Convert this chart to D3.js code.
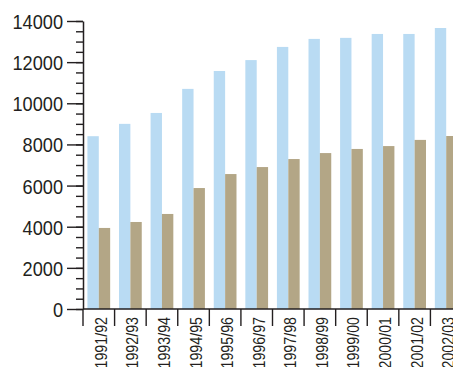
<!DOCTYPE html>
<html>
<head>
<meta charset="utf-8">
<script src="https://cdn.jsdelivr.net/npm/d3@7"></script>
<style>
  html, body { margin: 0; padding: 0; background: #fff; overflow: hidden; }
  svg { display: block; }
  text { font-family: "Liberation Sans", Arimo, Arial, sans-serif; fill: #231f20; }
</style>
</head>
<body>
<svg id="chart" width="453" height="367"></svg>
<script>
const categories = ["1991/92","1992/93","1993/94","1994/95","1995/96","1996/97","1997/98","1998/99","1999/00","2000/01","2001/02","2002/03"];
const seriesA = [8400, 9000, 9530, 10700, 11570, 12100, 12740, 13130, 13180, 13370, 13370, 13660];
const seriesB = [3940, 4230, 4620, 5880, 6560, 6900, 7290, 7580, 7780, 7920, 8220, 8410];
const yTicks = [0, 2000, 4000, 6000, 8000, 10000, 12000, 14000];
const seriesKeys = ["A", "B"];
const seriesColors = ["#b9dbf3", "#b3a686"];

(function () {
const svg = d3.select("#chart");
const mLeft = 83, mBottom = 309, mTop = 21, mRight = 462;

function condense(sel, factor) {
  sel.each(function () {
    const len = this.getComputedTextLength();
    d3.select(this).attr("textLength", len * factor).attr("lengthAdjust", "spacingAndGlyphs");
  });
}

const x0 = d3.scaleBand().domain(categories).range([mLeft, mRight]).paddingInner(0.28).paddingOuter(0.14);
const x1 = d3.scaleBand().domain(seriesKeys).range([0, x0.bandwidth()]);
const y = d3.scaleLinear().domain([0, 14000]).range([mBottom, mTop]);

const data = categories.map((c, i) => ({ cat: c, A: seriesA[i], B: seriesB[i] }));

const groups = svg.append("g").selectAll("g").data(data).join("g")
  .attr("transform", d => `translate(${x0(d.cat)},0)`);
groups.selectAll("rect")
  .data(d => seriesKeys.map((k, j) => ({ key: k, value: d[k], color: seriesColors[j] })))
  .join("rect")
  .attr("x", d => x1(d.key))
  .attr("width", x1.bandwidth())
  .attr("y", d => y(d.value))
  .attr("height", d => y(0) - y(d.value))
  .attr("fill", d => d.color);

// Y axis: minor ticks
const minorTicks = d3.range(0, 14001, 500);
svg.append("g").attr("transform", `translate(${mLeft},0)`)
  .call(d3.axisLeft(y).tickValues(minorTicks).tickSize(7).tickFormat(""))
  .call(g => g.select(".domain").remove())
  .call(g => g.selectAll("line").attr("stroke", "#231f20").attr("stroke-width", 1.4));

// Y axis: major
svg.append("g").attr("transform", `translate(${mLeft},0)`)
  .call(d3.axisLeft(y).tickValues(yTicks).tickSize(16).tickPadding(4).tickSizeOuter(0).tickFormat(d3.format("d")))
  .call(g => g.select(".domain").attr("stroke", "#231f20").attr("stroke-width", 1.5))
  .call(g => g.selectAll("line").attr("stroke", "#231f20").attr("stroke-width", 1.4))
  .call(g => g.selectAll("text").attr("font-size", 21).attr("dy", "0.36em")
     .style("font-family", "'Liberation Sans', Arimo, Arial, sans-serif").attr("fill", "#231f20")
     .call(condense, 0.865));

// X axis baseline
svg.append("line")
  .attr("x1", mLeft).attr("x2", 453).attr("y1", mBottom).attr("y2", mBottom)
  .attr("stroke", "#231f20").attr("stroke-width", 1.5);

// Category boundary ticks
const step = x0.step();
const bandStart = c => x0(c) - x0.paddingOuter() * step;
svg.append("g").selectAll("line").data(categories).join("line")
  .attr("x1", d => bandStart(d)).attr("x2", d => bandStart(d))
  .attr("y1", mBottom).attr("y2", mBottom + 17)
  .attr("stroke", "#231f20").attr("stroke-width", 1.4);

// Category labels (rotated)
svg.append("g").selectAll("text").data(categories).join("text")
  .attr("transform", d => `translate(${bandStart(d) + 18},${mBottom + 8}) rotate(-90)`)
  .attr("text-anchor", "end")
  .attr("dy", "0.36em")
  .attr("font-size", 16)
  .text(d => d)
  .call(condense, 0.89);
})();
</script>
</body>
</html>
